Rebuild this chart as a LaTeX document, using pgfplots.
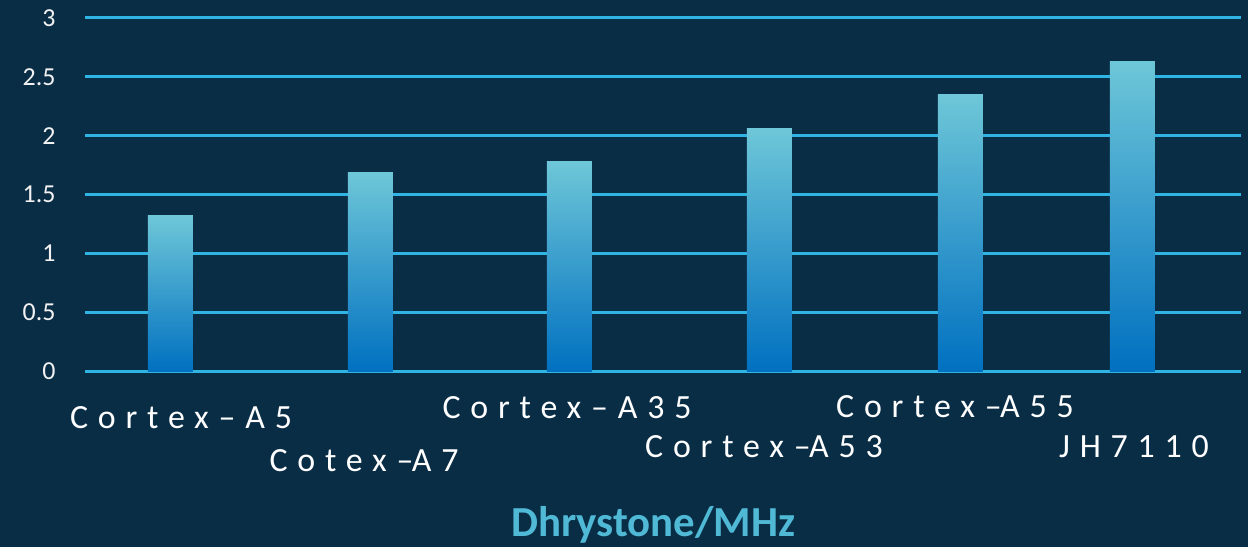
\documentclass[border=0pt]{standalone}
\usepackage{fontspec}
\setmainfont{Carlito}
\newfontfamily\spacedfont[LetterSpace=29]{Carlito}
\usepackage{pgfplots}
\pgfplotsset{compat=1.18}
\definecolor{bg}{HTML}{0A2D46}
\definecolor{gridc}{HTML}{2FB4E3}
\definecolor{bartop}{HTML}{6EC7D8}
\definecolor{barbot}{HTML}{0070C0}
\definecolor{tickc}{HTML}{F2F2F2}
\definecolor{titlec}{HTML}{50B9D6}
\begin{document}
\begin{tikzpicture}
\fill[bg] (0,0) rectangle (1248bp,547bp);
\begin{axis}[at={(85bp,175.5bp)}, anchor=south west, scale only axis,
  width=1156bp, height=353.5bp,
  xmin=-0.4275, xmax=5.3525, ymin=0, ymax=3,
  axis line style={draw=none}, xtick=\empty,
  ytick={0,0.5,1,1.5,2,2.5,3}, yticklabels={0,0.5,1,1.5,2,2.5,3},
  ymajorgrids, grid style={draw=gridc, line width=3bp},
  major tick length=0pt,
  yticklabel style={font=\fontsize{26}{30}\selectfont, text=tickc, anchor=east, xshift=-26bp},
  clip=false, no markers,
  cycle list={{ybar, draw=none, mark=none}}]
\pgfplotsset{barsty/.style={ybar, mark=none, bar width=45bp, bar shift=0pt, draw=none, top color=bartop, bottom color=barbot}}
\addplot[barsty] coordinates {(0,1.32)};
\addplot[barsty] coordinates {(1,1.69)};
\addplot[barsty] coordinates {(1.995,1.78)};
\addplot[barsty] coordinates {(2.995,2.06)};
\addplot[barsty] coordinates {(3.95,2.35)};
\addplot[barsty] coordinates {(4.81,2.63)};
\end{axis}
\begin{scope}[every node/.style={text=white, font=\spacedfont\fontsize{34}{38}\selectfont, anchor=base, inner sep=0pt}]
\node at (181bp,118.7bp) {Cortex–A5};
\node at (364bp,75bp) {Cotex–\kern-1.5bp A7};
\node at (567bp,128bp) {Cortex–A35};
\node at (764bp,89bp) {Cortex–\kern-1.5bp A53};
\node at (955bp,129bp) {Cortex–\kern-1.5bp A55};
\node at (1134bp,89bp) {JH7110};
\end{scope}
\node[text=titlec, font=\bfseries\fontsize{43}{48}\selectfont, anchor=base, inner sep=0pt] at (653bp,11bp) {Dhrystone/MHz};
\end{tikzpicture}
\end{document}
